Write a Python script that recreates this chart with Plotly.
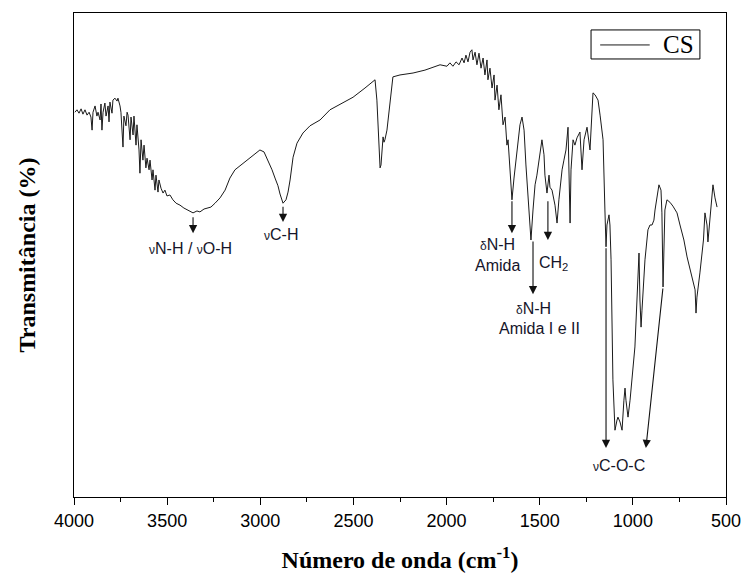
import plotly.graph_objects as go

# FTIR spectrum of chitosan (CS): wavenumber (cm-1) and transmittance (arbitrary % scale)
wavenumber = [
    3995, 3984, 3973, 3962, 3952, 3941, 3930, 3919, 3909, 3903, 3898, 3887, 3877, 3871,
    3860, 3855, 3850, 3844, 3834, 3828, 3817, 3812, 3807, 3796, 3791, 3780, 3769, 3764,
    3753, 3748, 3737, 3732, 3721, 3715, 3710, 3699, 3694, 3683, 3678, 3667, 3662, 3651,
    3646, 3640, 3630, 3624, 3614, 3608, 3597, 3592, 3581, 3576, 3565, 3560, 3549, 3544,
    3533, 3522, 3512, 3501, 3485, 3469, 3452, 3431, 3410, 3388, 3361, 3340, 3324, 3302,
    3286, 3265, 3243, 3216, 3189, 3163, 3136, 3109, 3082, 3055, 3028, 3002, 2980, 2959,
    2937, 2921, 2905, 2894, 2878, 2862, 2851, 2840, 2824, 2803, 2771, 2733, 2679, 2626,
    2572, 2502, 2438, 2384, 2374, 2363, 2357, 2352, 2347, 2341, 2336, 2331, 2320, 2309,
    2298, 2288, 2250, 2180, 2116, 2035, 1998, 1982, 1966, 1949, 1933, 1917, 1906, 1896,
    1885, 1874, 1864, 1858, 1847, 1837, 1826, 1815, 1804, 1794, 1783, 1778, 1767, 1756,
    1745, 1740, 1729, 1719, 1708, 1697, 1686, 1676, 1670, 1660, 1649, 1638, 1622, 1606,
    1595, 1584, 1574, 1563, 1552, 1547, 1536, 1525, 1515, 1504, 1493, 1488, 1477, 1472,
    1461, 1450, 1445, 1434, 1418, 1407, 1397, 1380, 1370, 1359, 1348, 1343, 1337, 1332,
    1321, 1311, 1300, 1284, 1278, 1273, 1262, 1246, 1230, 1219, 1214, 1203, 1187, 1176,
    1160, 1150, 1144, 1139, 1133, 1128, 1123, 1117, 1107, 1096, 1085, 1080, 1069, 1058,
    1048, 1042, 1037, 1026, 1015, 999, 989, 978, 972, 967, 962, 956, 951, 946,
    935, 919, 908, 897, 887, 881, 870, 860, 849, 844, 838, 833, 828, 817,
    801, 785, 763, 747, 726, 709, 693, 677, 666, 661, 656, 640, 621, 613,
    602, 597, 586, 575, 570, 559, 548,
]
transmittance = [
    79.5, 80.0, 79.3, 80.2, 79.1, 80.0, 78.9, 79.5, 78.5, 75.8, 79.5, 80.8, 78.7, 79.5,
    77.9, 81.2, 75.8, 79.5, 81.4, 78.7, 80.8, 77.5, 81.6, 79.3, 82.0, 82.4, 81.8, 82.4,
    80.8, 79.5, 72.3, 78.7, 76.7, 79.5, 78.9, 73.8, 78.5, 74.8, 78.7, 72.7, 76.9, 71.7,
    66.9, 73.8, 69.6, 72.7, 68.0, 70.0, 67.6, 69.6, 65.5, 67.6, 63.4, 66.5, 63.0, 65.5,
    63.8, 62.8, 63.4, 62.2, 62.4, 61.4, 60.7, 60.3, 59.7, 59.3, 58.7, 59.1, 58.9, 59.5,
    59.7, 59.9, 60.7, 61.8, 63.4, 65.9, 67.6, 68.4, 69.2, 70.0, 70.9, 71.7, 71.3, 69.6,
    67.6, 65.9, 64.3, 62.6, 60.7, 61.4, 63.0, 65.5, 70.2, 73.1, 75.2, 76.7, 77.9, 80.0,
    81.2, 82.6, 84.5, 86.2, 82.0, 73.8, 68.0, 68.6, 71.7, 74.4, 73.3, 73.8, 75.8, 80.0,
    84.1, 86.8, 87.2, 87.6, 88.2, 89.3, 89.0, 89.7, 89.0, 89.9, 89.3, 90.7, 89.7, 91.3,
    89.9, 91.9, 92.4, 90.3, 91.9, 89.3, 91.7, 88.6, 90.7, 87.2, 90.3, 86.2, 88.6, 84.5,
    87.2, 82.0, 85.1, 80.0, 83.1, 76.9, 78.5, 72.7, 73.8, 66.5, 61.4, 65.9, 71.7, 76.9,
    78.5, 75.8, 68.6, 61.4, 56.2, 53.1, 59.3, 64.5, 66.5, 69.6, 72.7, 73.8, 70.7, 66.5,
    62.8, 66.5, 64.0, 63.4, 60.3, 56.6, 61.4, 67.6, 69.6, 71.7, 76.4, 69.6, 56.6, 67.6,
    73.8, 72.7, 74.2, 75.4, 71.7, 67.6, 73.8, 76.4, 71.7, 80.0, 83.5, 83.1, 82.0, 78.9,
    73.8, 59.3, 51.7, 56.2, 57.9, 58.3, 56.2, 49.0, 24.2, 13.8, 15.9, 16.5, 15.5, 13.8,
    20.0, 22.5, 20.0, 16.5, 20.0, 26.2, 31.0, 40.7, 49.0, 50.4, 40.7, 35.1, 38.6, 42.1,
    49.0, 55.2, 56.2, 56.2, 57.2, 59.3, 62.4, 64.5, 63.4, 58.7, 43.4, 53.1, 59.3, 61.4,
    60.9, 60.1, 58.7, 56.2, 53.1, 49.6, 46.9, 44.2, 42.8, 38.0, 41.3, 46.3, 53.1, 58.7,
    56.2, 52.7, 57.2, 61.4, 64.5, 61.8, 59.9,
]

x_ticks = [4000, 3500, 3000, 2500, 2000, 1500, 1000, 500]
series_name = "CS"

# Band assignments: arrow (tail wn, tail T) -> (head wn, head T)
band_arrows = [
    (3361, 58.1, 3361, 54.5),
    (2878, 60.3, 2878, 56.8),
    (1649, 61.4, 1649, 54.5),
    (1456, 61.4, 1456, 53.1),
    (1536, 53.1, 1536, 41.9),
    (1144, 51.7, 1144, 10.1),
    (838, 43.4, 930, 10.1),
]

NU = '<span style="font-size:12px">\u03bd</span>'
DELTA = '<span style="font-size:12px">\u03b4</span>'
band_labels = [
    (3377, 51.4, f"{NU}N-H / {NU}O-H"),
    (2889, 54.3, f"{NU}C-H"),
    (1729, 52.1, f"{DELTA}N-H"),
    (1729, 47.9, "Amida"),
    (1425, 48.3, "CH<sub>2</sub>"),
    (1536, 39.0, f"{DELTA}N-H"),
    (1499, 34.9, "Amida I e II"),
    (1075, 6.6, f"{NU}C-O-C"),
]

LINE_COLOR = "#1a1a1a"
SERIF = "Liberation Serif, Times New Roman"
SANS = "Liberation Sans, Arial"

fig = go.Figure()
fig.add_trace(go.Scatter(
    x=wavenumber, y=transmittance, mode="lines", name=series_name,
    line=dict(color=LINE_COLOR, width=1), showlegend=False,
))

annotations = []
for ax_, ay_, x_, y_ in band_arrows:
    annotations.append(dict(
        x=x_, y=y_, ax=ax_, ay=ay_, xref="x", yref="y", axref="x", ayref="y",
        text="", showarrow=True, arrowhead=2, arrowsize=1.5, arrowwidth=1.1,
        arrowcolor="#111111", standoff=0, startstandoff=0,
    ))
for x_, y_, txt in band_labels:
    annotations.append(dict(
        x=x_, y=y_, xref="x", yref="y", text=txt, showarrow=False,
        font=dict(family=SANS, size=16, color="#15152a"),
        xanchor="center", yanchor="middle",
    ))

# Boxed legend in the upper-right corner of the plot area
annotations.append(dict(
    x=0.900, y=0.934, xref="paper", yref="paper", text=series_name,
    showarrow=False, xanchor="left", yanchor="middle",
    font=dict(family=SERIF, size=25, color="black"),
))
shapes = [
    dict(type="rect", xref="paper", yref="paper", x0=0.793, x1=0.960, y0=0.905, y1=0.965,
         line=dict(color="black", width=1), fillcolor="white", layer="below"),
    dict(type="line", xref="paper", yref="paper", x0=0.807, x1=0.883, y0=0.934, y1=0.934,
         line=dict(color=LINE_COLOR, width=1)),
]

fig.update_layout(
    width=744, height=576,
    margin=dict(l=74, r=18, t=13, b=79),
    paper_bgcolor="white", plot_bgcolor="white",
    showlegend=False,
    annotations=annotations,
    shapes=shapes,
)
fig.update_xaxes(
    range=[4000, 500], tickvals=x_ticks, ticktext=[str(v) for v in x_ticks],
    ticks="outside", ticklen=7, tickwidth=1, tickcolor="black",
    minor=dict(dtick=250, ticks="outside", ticklen=4, tickcolor="black", tick0=0),
    showline=True, linecolor="black", linewidth=1.2, mirror=True,
    showgrid=False, zeroline=False, automargin=False,
    tickfont=dict(family=SANS, size=18, color="black"),
    title=dict(text="<b>Número de onda (cm<sup>-1</sup>)</b>", standoff=21,
               font=dict(family=SERIF, size=24, color="black")),
)
fig.update_yaxes(
    range=[0, 100], showticklabels=False, ticks="",
    showline=True, linecolor="black", linewidth=1.2, mirror=True,
    showgrid=False, zeroline=False, automargin=False,
    title=dict(text="<b>Transmitância (%)</b>", standoff=30,
               font=dict(family=SERIF, size=24, color="black")),
)

fig.write_html("out.html")
